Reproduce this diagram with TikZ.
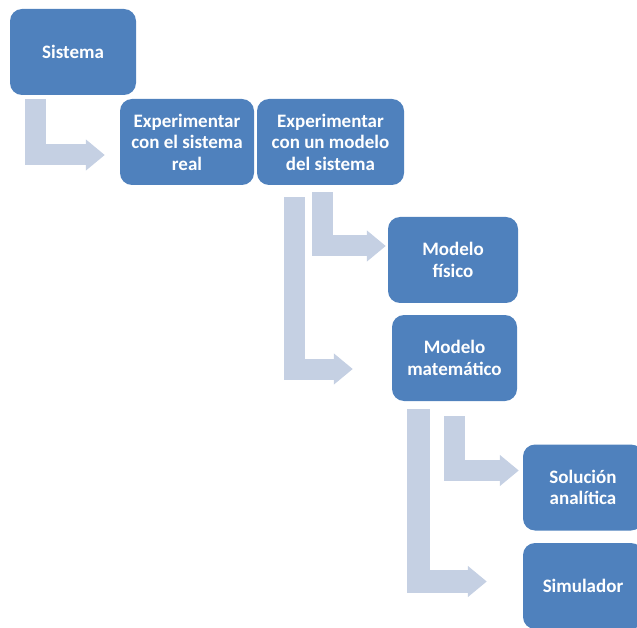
\documentclass[tikz,border=0pt]{standalone}
\usepackage{fontspec}
\setmainfont{Carlito}
\usetikzlibrary{arrows.meta}
\definecolor{boxblue}{HTML}{4F81BD}
\definecolor{arrblue}{HTML}{C5D0E3}
\begin{document}
\begin{tikzpicture}[x=1pt,y=-1pt,
  box/.style={rectangle, rounded corners=12pt, fill=boxblue, text=white, minimum height=86pt, align=center, inner sep=1pt, font=\bfseries\fontsize{19}{21.5}\selectfont},
  bentarr/.style={draw=arrblue, line width=21pt, -{Triangle[length=19pt,width=30pt]}}]
\useasboundingbox (0,0) rectangle (637,628);
\node[box, minimum width=126pt] (sis) at (73,52){Sistema};
\node[box, minimum width=134pt] (real) at (187,142){Experimentar\\con el sistema\\real};
\node[box, minimum width=147pt] (mod) at (330.5,142){Experimentar\\con un modelo\\del sistema};
\node[box, minimum width=130pt] (fis) at (453,260){Modelo\\físico};
\node[box, minimum width=125pt] (mat) at (454.5,358){Modelo\\matemático};
\node[box, minimum width=120pt] (sol) at (583,487.5){Solución\\analítica};
\node[box, minimum width=120pt] (sim) at (583,586){Simulador};
\draw[bentarr]([xshift=26pt,yshift=-4pt]sis.south west) |- ([xshift=-15pt,yshift=-13pt]real.west);
\draw[bentarr]([xshift=65.5pt,yshift=-7pt]mod.south west) |- ([xshift=-2pt,yshift=14pt]fis.west);
\draw[bentarr]([xshift=37.5pt,yshift=-12pt]mod.south west) |- ([xshift=-39pt,yshift=-11pt]mat.west);
\draw[bentarr]([xshift=63pt,yshift=-15pt]mat.south west) |- ([xshift=-4pt,yshift=17pt]sol.west);
\draw[bentarr, line width=23pt]([xshift=27pt,yshift=-8pt]mat.south west) |- ([xshift=-36pt,yshift=4.5pt]sim.west);
\end{tikzpicture}
\end{document}
